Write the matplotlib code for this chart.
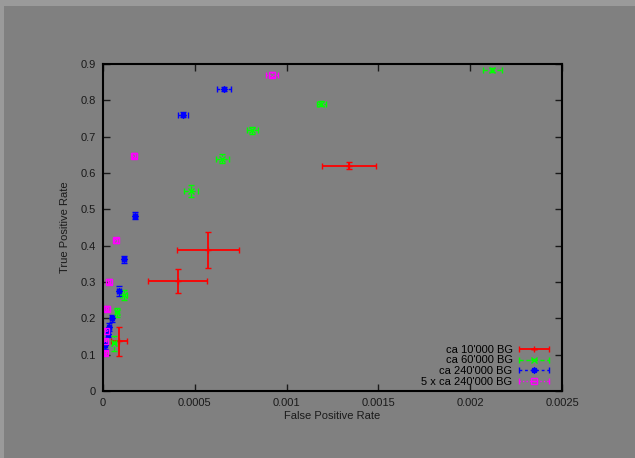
import matplotlib
matplotlib.use("Agg")
from matplotlib import pyplot as plt
from matplotlib.patches import Rectangle
from matplotlib.container import ErrorbarContainer
from matplotlib.legend_handler import HandlerErrorbar
from matplotlib.ticker import FormatStrFormatter, MultipleLocator

plt.rcParams['font.family'] = ['Liberation Sans', 'DejaVu Sans']

# ca 10'000 BG
red_x = [0.000087, 0.000407, 0.000572, 0.00134]
red_y = [0.137, 0.303, 0.388, 0.620]
red_xerr = [0.000044, 0.000161, 0.000167, 0.000145]
red_yerr = [0.040, 0.033, 0.049, 0.009]

# ca 60'000 BG
green_x = [0.00006, 0.000075, 0.000113, 0.000479, 0.00065, 0.000813, 0.00119, 0.00212]
green_y = [0.131, 0.217, 0.264, 0.550, 0.639, 0.717, 0.791, 0.883]
green_xerr = [0.00001, 0.00001, 0.00002, 0.000039, 0.000037, 0.00003, 0.000027, 0.000053]
green_yerr = [0.02, 0.012, 0.013, 0.016, 0.0125, 0.01, 0.006, 0.005]

# ca 240'000 BG
blue_x = [0.000011, 0.000026, 0.000034, 0.000047, 0.000087, 0.000116, 0.000174, 0.000436, 0.000659]
blue_y = [0.126, 0.158, 0.176, 0.200, 0.275, 0.362, 0.483, 0.761, 0.831]
blue_xerr = [0.000005, 0.000006, 0.000007, 0.000008, 0.00001, 0.00001, 0.00001, 0.000025, 0.00004]
blue_yerr = [0.01, 0.01, 0.01, 0.01, 0.014, 0.01, 0.009, 0.006, 0.005]

# 5 x ca 240'000 BG
mag_x = [0.000011, 0.000011, 0.000015, 0.00002, 0.000031, 0.000069, 0.000167, 0.000922]
mag_y = [0.104, 0.138, 0.166, 0.227, 0.301, 0.415, 0.647, 0.871]
mag_xerr = [0.000004, 0.000004, 0.000005, 0.000005, 0.000006, 0.000007, 0.00001, 0.000032]
mag_yerr = [0.006, 0.006, 0.006, 0.007, 0.007, 0.007, 0.007, 0.006]

fig = plt.figure(figsize=(6.35, 4.58), dpi=100, facecolor='#9a9a9a')
fig.patches.append(Rectangle((4 / 635, 0), 1, (458 - 6) / 458, transform=fig.transFigure,
                             facecolor='#808080', edgecolor='none', zorder=-10))
ax = fig.add_axes([103 / 635, 67 / 458, 459 / 635, 327 / 458])
ax.set_facecolor('#808080')

series = [
    (red_x, red_y, red_xerr, red_yerr, '#ff0000', '+', '-', 1.3, "ca 10'000 BG"),
    (green_x, green_y, green_xerr, green_yerr, '#00ff00', 'x', (0, (3, 2)), 1.0, "ca 60'000 BG"),
    (blue_x, blue_y, blue_xerr, blue_yerr, '#0000ff', (8, 2, 0), (0, (2, 2)), 1.0, "ca 240'000 BG"),
    (mag_x, mag_y, mag_xerr, mag_yerr, '#ff00ff', 's', (0, (1, 1.5)), 1.0, "5 x ca 240'000 BG"),
]
for x, y, xe, ye, c, m, ls, lw, lab in series:
    mfc = 'none' if m == 's' else c
    cont = ax.errorbar(x, y, xerr=xe, yerr=ye, marker=m, linestyle='none', color=c, ecolor=c,
                       mfc=mfc, mec=c, ms=4.5, mew=1.0, elinewidth=lw, capsize=2,
                       capthick=lw, label=lab)
    for lc in cont[2]:
        lc.set_linestyle(ls)

ax.set_xlim(0, 0.0025)
ax.set_ylim(0, 0.9)
ax.xaxis.set_major_locator(MultipleLocator(0.0005))
ax.yaxis.set_major_locator(MultipleLocator(0.1))
ax.xaxis.set_major_formatter(FormatStrFormatter('%g'))
ax.yaxis.set_major_formatter(FormatStrFormatter('%g'))
ax.tick_params(direction='in', top=True, right=True, length=5, width=1,
               labelsize=8, colors='#1a1a1a', pad=5)
for s in ax.spines.values():
    s.set_linewidth(1.5)
    s.set_color('black')

ax.set_xlabel('False Positive Rate', fontsize=8, color='#1a1a1a', labelpad=2)
ax.set_ylabel('True Positive Rate', fontsize=8, color='#1a1a1a', labelpad=8)

ax.legend(loc='lower right', bbox_to_anchor=(0.983, 0.0), frameon=False, fontsize=8,
          markerfirst=False, handlelength=2.8, labelspacing=0.05, borderaxespad=0,
          handletextpad=0.55,
          handler_map={ErrorbarContainer: HandlerErrorbar(xerr_size=1.35, yerr_size=0.01)})

plt.savefig("out.png", dpi=100, facecolor=fig.get_facecolor())
